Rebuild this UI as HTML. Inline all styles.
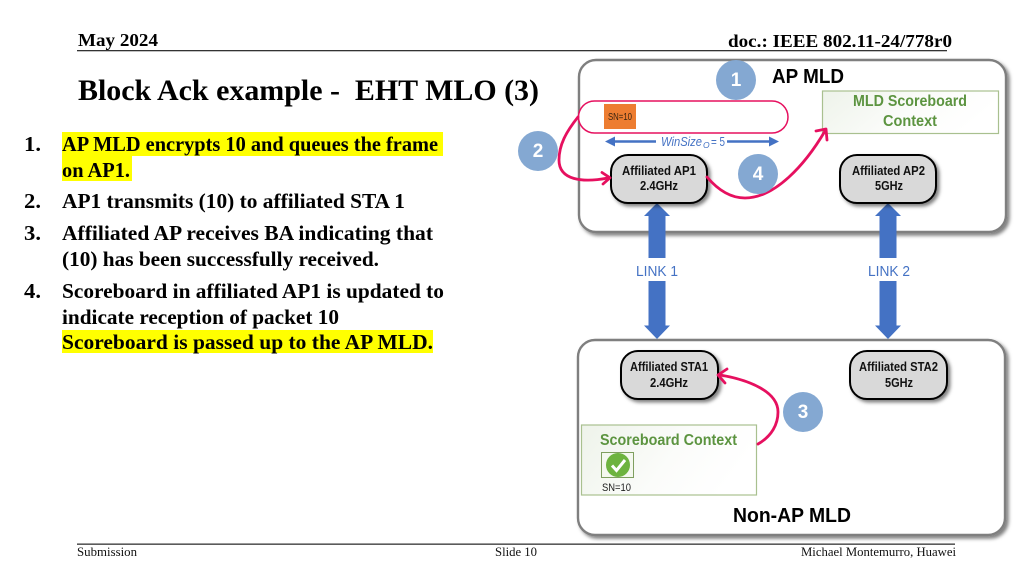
<!DOCTYPE html>
<html>
<head>
<meta charset="utf-8">
<style>
html,body{margin:0;padding:0;background:#fff;width:1024px;height:576px;overflow:hidden}
svg{display:block}
.s{font-family:"Liberation Serif",serif}
.c{font-family:"Liberation Sans",sans-serif}
.b{font-weight:bold}
</style>
</head>
<body>
<svg width="1024" height="576" viewBox="0 0 1024 576" xmlns="http://www.w3.org/2000/svg">
<defs>
<filter id="sh" x="-10%" y="-10%" width="120%" height="120%"><feDropShadow dx="2.500" dy="2.500" stdDeviation="1.800" flood-color="#000" flood-opacity=".5"/></filter>
<linearGradient id="g" x1="0" y1="0" x2="1" y2="0.300"><stop offset="0" stop-color="#eef3ea"/><stop offset=".6" stop-color="#fbfcfa"/><stop offset="1" stop-color="#fff"/></linearGradient>
</defs>

<!-- header -->
<text class="s b" x="78" y="46" font-size="18" textLength="80" lengthAdjust="spacingAndGlyphs">May 2024</text>
<text class="s b" x="728" y="47" font-size="18" textLength="224" lengthAdjust="spacingAndGlyphs">doc.: IEEE 802.11-24/778r0</text>
<rect x="77" y="50" width="870" height="1.300" fill="#333"/>
<text class="s b" x="78" y="100" font-size="29.800" textLength="461" lengthAdjust="spacingAndGlyphs" xml:space="preserve">Block Ack example -  EHT MLO (3)</text>

<!-- highlights -->
<rect x="62" y="132" width="381" height="24" fill="#ff0"/>
<rect x="62" y="156" width="70" height="25" fill="#ff0"/>
<rect x="62" y="330" width="371" height="23" fill="#ff0"/>

<!-- list -->
<g class="s b" font-size="21.500" fill="#000">
<text x="24" y="151" textLength="17" lengthAdjust="spacingAndGlyphs">1.</text>
<text x="62" y="151" textLength="376" lengthAdjust="spacingAndGlyphs">AP MLD encrypts 10 and queues the frame</text>
<text x="62" y="177" textLength="68" lengthAdjust="spacingAndGlyphs">on AP1.</text>
<text x="24" y="208" textLength="17" lengthAdjust="spacingAndGlyphs">2.</text>
<text x="62" y="208" textLength="343" lengthAdjust="spacingAndGlyphs">AP1 transmits (10) to affiliated STA 1</text>
<text x="24" y="240" textLength="17" lengthAdjust="spacingAndGlyphs">3.</text>
<text x="62" y="240" textLength="371" lengthAdjust="spacingAndGlyphs">Affiliated AP receives BA indicating that</text>
<text x="62" y="266" textLength="317" lengthAdjust="spacingAndGlyphs">(10) has been successfully received.</text>
<text x="24" y="298" textLength="17" lengthAdjust="spacingAndGlyphs">4.</text>
<text x="62" y="298" textLength="382" lengthAdjust="spacingAndGlyphs">Scoreboard in affiliated AP1 is updated to</text>
<text x="62" y="324" textLength="277" lengthAdjust="spacingAndGlyphs">indicate reception of packet 10</text>
<text x="62" y="349" textLength="371" lengthAdjust="spacingAndGlyphs">Scoreboard is passed up to the AP MLD.</text>
</g>

<!-- containers -->
<rect x="579" y="60" width="427" height="172" rx="17" fill="#fff" stroke="#7f7f7f" stroke-width="2.400" filter="url(#sh)"/>
<rect x="578" y="340" width="427" height="195" rx="17" fill="#fff" stroke="#7f7f7f" stroke-width="2.400" filter="url(#sh)"/>

<!-- thick arrows -->
<path d="M657 203L670 216H665.500V325.500H670L657 339L644 325.500H648.500V216H644Z" fill="#4472c4"/>
<path d="M888 203L901 216H896.500V325.500H901L888 339L875 325.500H879.500V216H875Z" fill="#4472c4"/>
<rect x="630" y="258" width="54" height="23" fill="#fff"/>
<rect x="862" y="258" width="54" height="23" fill="#fff"/>
<g class="c" font-size="14.500" fill="#4472c4">
<text x="636" y="276" textLength="42" lengthAdjust="spacingAndGlyphs">LINK 1</text>
<text x="868" y="276" textLength="42" lengthAdjust="spacingAndGlyphs">LINK 2</text>
</g>

<!-- titles -->
<text class="c b" x="772" y="83" font-size="20" textLength="72" lengthAdjust="spacingAndGlyphs">AP MLD</text>
<text class="c b" x="733" y="522" font-size="20" textLength="118" lengthAdjust="spacingAndGlyphs">Non-AP MLD</text>

<!-- MLD scoreboard -->
<rect x="822.500" y="91" width="176" height="42.500" fill="url(#g)" stroke="#a9c08f" stroke-width="1.200"/>
<g class="c b" font-size="16" fill="#5c9440">
<text x="853" y="106" textLength="114" lengthAdjust="spacingAndGlyphs">MLD Scoreboard</text>
<text x="883" y="126" textLength="54" lengthAdjust="spacingAndGlyphs">Context</text>
</g>

<!-- window -->
<rect x="578.500" y="101" width="209.500" height="32" rx="16" fill="#fff" stroke="#e6105f" stroke-width="1.500"/>
<rect x="604" y="104" width="32" height="25" fill="#ed7d31"/>
<text class="c" x="608" y="120" font-size="10.500" fill="#3a2410" textLength="24" lengthAdjust="spacingAndGlyphs">SN=10</text>
<path d="M612 141.500H656M727 141.500H772" stroke="#4472c4" stroke-width="2.600"/>
<path d="M605 141.500L615 136.500V146.500Z M779 141.500L769 136.500V146.500Z" fill="#4472c4"/>
<text class="c" x="661" y="146" font-size="13" fill="#4472c4" font-style="italic" textLength="41" lengthAdjust="spacingAndGlyphs">WinSize</text>
<text class="c" x="703" y="148" font-size="8.500" fill="#4472c4" font-style="italic">O</text>
<text class="c" x="711" y="146" font-size="13" fill="#4472c4" textLength="14" lengthAdjust="spacingAndGlyphs">= 5</text>

<!-- nodes -->
<g fill="#d9d9d9" stroke="#000" stroke-width="2" filter="url(#sh)">
<rect x="611" y="155" width="96" height="48" rx="17"/>
<rect x="840" y="155" width="96" height="48" rx="17"/>
<rect x="621" y="351" width="97" height="48" rx="17"/>
<rect x="850" y="351" width="97" height="48" rx="17"/>
</g>
<g class="c b" font-size="12.500" fill="#111">
<text x="622" y="175" textLength="74" lengthAdjust="spacingAndGlyphs">Affiliated AP1</text>
<text x="640" y="190" textLength="38" lengthAdjust="spacingAndGlyphs">2.4GHz</text>
<text x="852" y="175" textLength="73" lengthAdjust="spacingAndGlyphs">Affiliated AP2</text>
<text x="875" y="190" textLength="28" lengthAdjust="spacingAndGlyphs">5GHz</text>
<text x="630" y="371" textLength="78" lengthAdjust="spacingAndGlyphs">Affiliated STA1</text>
<text x="650" y="387" textLength="38" lengthAdjust="spacingAndGlyphs">2.4GHz</text>
<text x="859" y="371" textLength="79" lengthAdjust="spacingAndGlyphs">Affiliated STA2</text>
<text x="885" y="387" textLength="28" lengthAdjust="spacingAndGlyphs">5GHz</text>
</g>

<!-- scoreboard context -->
<rect x="581.500" y="425" width="175" height="70" fill="url(#g)" stroke="#a9c08f" stroke-width="1.200"/>
<text class="c b" x="600" y="445" font-size="16" fill="#5c9440" textLength="137" lengthAdjust="spacingAndGlyphs">Scoreboard Context</text>
<rect x="601.500" y="452.500" width="32" height="25" fill="#f4f8ef" stroke="#7f9f5f" stroke-width="1"/>
<circle cx="618" cy="465" r="12" fill="#6db33f"/>
<path d="M612 465.500L616.500 470.500L625 460" fill="none" stroke="#fff" stroke-width="3"/>
<text class="c" x="602" y="491" font-size="11" fill="#222" textLength="29" lengthAdjust="spacingAndGlyphs">SN=10</text>

<!-- pink arrows -->
<g fill="none" stroke="#e6105f" stroke-width="2.800" stroke-linecap="round" stroke-linejoin="round">
<path d="M578 117C566 132 559 145 559 160C559 180 582 183 608 178"/>
<path d="M602 172.500L610 177.800L603 184"/>
<path d="M707 177C718 190 730 198 745 198C775 198 805 165 825 131"/>
<path d="M816 131L826 129L827 140"/>
<path d="M758 444C772 436 778 424 778 412C778 392 750 380 720 375"/>
<path d="M727 369L718 375L725 383"/>
</g>

<!-- circles -->
<g fill="#84a8d2">
<circle cx="736" cy="80" r="20"/>
<circle cx="538" cy="151" r="20"/>
<circle cx="758" cy="174" r="20"/>
<circle cx="803" cy="412" r="20"/>
</g>
<g class="c b" font-size="19" fill="#fff" text-anchor="middle">
<text x="736" y="86">1</text>
<text x="538" y="157">2</text>
<text x="758" y="180">4</text>
<text x="803" y="418">3</text>
</g>

<!-- footer -->
<rect x="77" y="543.500" width="878" height="1.300" fill="#333"/>
<g class="s" font-size="13" fill="#111">
<text x="77" y="556" textLength="60" lengthAdjust="spacingAndGlyphs">Submission</text>
<text x="495" y="556" textLength="42" lengthAdjust="spacingAndGlyphs">Slide 10</text>
<text x="801" y="556" textLength="155" lengthAdjust="spacingAndGlyphs">Michael Montemurro, Huawei</text>
</g>
</svg>
</body>
</html>
